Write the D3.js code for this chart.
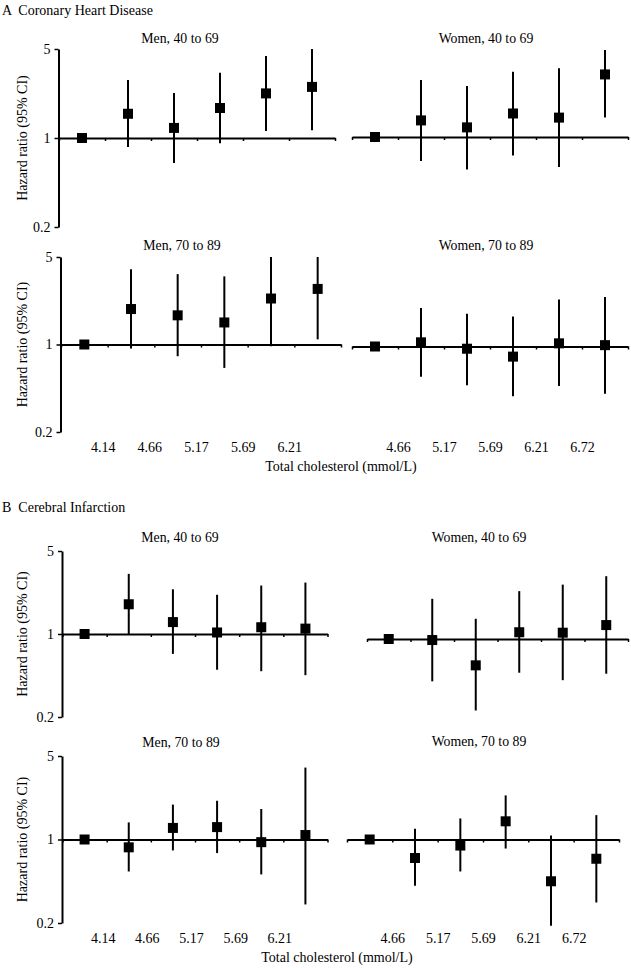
<!DOCTYPE html>
<html><head><meta charset="utf-8">
<script src="https://cdn.jsdelivr.net/npm/d3@7"></script>
<style>
html,body{margin:0;padding:0;background:#fff;}
text{font-family:"Liberation Serif","Times New Roman",serif;fill:#000;}
.pre{white-space:pre;}
</style></head>
<body>
<svg id="chart" width="631" height="968"></svg>
<script>
// ---------------- DATA ----------------
const menGroups   = ["<4.14","4.14–4.65","4.66–5.16","5.17–5.68","5.69–6.20","≥6.21"];
const womenGroups = ["<4.66","4.66–5.16","5.17–5.68","5.69–6.20","6.21–6.71","≥6.72"];
const menTickLabels   = ["4.14","4.66","5.17","5.69","6.21"];
const womenTickLabels = ["4.66","5.17","5.69","6.21","6.72"];
const yTickValues = [0.2, 1, 5];

// A Coronary Heart Disease
const chdMen4069HR   = [1, 1.55, 1.20, 1.72, 2.24, 2.52];
const chdMen4069Lo   = [1, 0.85, 0.635, 0.91, 1.135, 1.15];
const chdMen4069Hi   = [1, 2.85, 2.26, 3.25, 4.40, 5.0];
const chdWomen4069HR = [1, 1.35, 1.19, 1.53, 1.42, 3.10];
const chdWomen4069Lo = [1, 0.647, 0.556, 0.717, 0.58, 1.42];
const chdWomen4069Hi = [1, 2.80, 2.52, 3.25, 3.46, 4.82];
const chdMen7089HR   = [1, 1.92, 1.71, 1.50, 2.33, 2.78];
const chdMen7089Lo   = [1, 0.93, 0.806, 0.65, 0.97, 1.10];
const chdMen7089Hi   = [1, 4.00, 3.65, 3.50, 5.0, 5.0];
const chdWomen7089HR = [1, 1.08, 0.96, 0.83, 1.06, 1.025];
const chdWomen7089Lo = [1, 0.574, 0.49, 0.40, 0.483, 0.42];
const chdWomen7089Hi = [1, 2.03, 1.83, 1.74, 2.37, 2.49];

// B Cerebral Infarction
const ciMen4069HR   = [1, 1.78, 1.26, 1.03, 1.14, 1.11];
const ciMen4069Lo   = [1, 1.0, 0.68, 0.50, 0.486, 0.45];
const ciMen4069Hi   = [1, 3.21, 2.38, 2.14, 2.56, 2.71];
const ciWomen4069HR = [1, 0.98, 0.60, 1.14, 1.13, 1.31];
const ciWomen4069Lo = [1, 0.44, 0.25, 0.52, 0.45, 0.51];
const ciWomen4069Hi = [1, 2.18, 1.48, 2.53, 2.87, 3.38];
const ciMen7089HR   = [1, 0.86, 1.25, 1.27, 0.95, 1.09];
const ciMen7089Lo   = [1, 0.54, 0.81, 0.77, 0.51, 0.286];
const ciMen7089Hi   = [1, 1.39, 1.96, 2.11, 1.80, 4.0];
const ciWomen7089HR = [1, 0.70, 0.89, 1.42, 0.447, 0.69];
const ciWomen7089Lo = [1, 0.41, 0.54, 0.84, 0.19, 0.297];
const ciWomen7089Hi = [1, 1.23, 1.50, 2.34, 1.08, 1.60];

// ---------------- LAYOUT ----------------
const svg = d3.select("#chart");
const FONT = 14;

function makeSeries(groups, hr, lo, hi){
  return groups.map((g,i)=>({g, hr:hr[i], lo:lo[i], hi:hi[i], ref:i===0}));
}

const panels = [
  {title:"Men, 40 to 69", tx:180, ty:43, x0:59, x1:335, yTop:49, yBot:227, yAxis:true, groups:menGroups,
   data:makeSeries(menGroups, chdMen4069HR, chdMen4069Lo, chdMen4069Hi)},
  {title:"Women, 40 to 69", tx:486, ty:43, x0:352, x1:628, yTop:48, yBot:226, yAxis:false, groups:womenGroups,
   data:makeSeries(womenGroups, chdWomen4069HR, chdWomen4069Lo, chdWomen4069Hi)},
  {title:"Men, 70 to 89", tx:182, ty:250, x0:61, x1:341, yTop:257, yBot:432, yAxis:true, groups:menGroups,
   labels:menTickLabels, labelY:452, labelDx:-5,
   data:makeSeries(menGroups, chdMen7089HR, chdMen7089Lo, chdMen7089Hi)},
  {title:"Women, 70 to 89", tx:486, ty:250, x0:352, x1:628, yTop:259, yBot:434, yAxis:false, groups:womenGroups,
   labels:womenTickLabels, labelY:452, labelDx:0,
   data:makeSeries(womenGroups, chdWomen7089HR, chdWomen7089Lo, chdWomen7089Hi)},

  {title:"Men, 40 to 69", tx:180, ty:542, x0:62.5, x1:327.5, yTop:551, yBot:717, yAxis:true, groups:menGroups,
   data:makeSeries(menGroups, ciMen4069HR, ciMen4069Lo, ciMen4069Hi)},
  {title:"Women, 40 to 69", tx:479, ty:542, x0:367, x1:628, yTop:556, yBot:722, yAxis:false, groups:womenGroups,
   data:makeSeries(womenGroups, ciWomen4069HR, ciWomen4069Lo, ciWomen4069Hi)},
  {title:"Men, 70 to 89", tx:181, ty:747, x0:62.5, x1:327.5, yTop:756, yBot:923, yAxis:true, groups:menGroups,
   labels:menTickLabels, labelY:943, labelDx:-4,
   data:makeSeries(menGroups, ciMen7089HR, ciMen7089Lo, ciMen7089Hi)},
  {title:"Women, 70 to 89", tx:479, ty:746, x0:347, x1:619, yTop:756, yBot:923, yAxis:false, groups:womenGroups,
   labels:womenTickLabels, labelY:943, labelDx:0,
   data:makeSeries(womenGroups, ciWomen7089HR, ciWomen7089Lo, ciWomen7089Hi)}
];

// Section headings & axis titles
svg.append("text").attr("class","pre").attr("x",2).attr("y",15).attr("font-size",FONT).text("A  Coronary Heart Disease");
svg.append("text").attr("class","pre").attr("x",2).attr("y",512).attr("font-size",FONT).text("B  Cerebral Infarction");
svg.append("text").attr("x",341).attr("y",471).attr("text-anchor","middle").attr("font-size",FONT).text("Total cholesterol (mmol/L)");
svg.append("text").attr("x",337).attr("y",962).attr("text-anchor","middle").attr("font-size",FONT).text("Total cholesterol (mmol/L)");

panels.forEach(p=>{
  const g = svg.append("g");
  const x = d3.scaleBand().domain(p.groups).range([p.x0, p.x1]).paddingInner(0).paddingOuter(0);
  const xb = d3.scaleLinear().domain([0, p.groups.length]).range([p.x0, p.x1]);
  const y = d3.scaleLog().domain([0.2, 5]).range([p.yBot, p.yTop]);

  // title
  g.append("text").attr("x",p.tx).attr("y",p.ty).attr("text-anchor","middle")
    .attr("font-size",13.8).text(p.title);

  // y axis
  if(p.yAxis){
    const ya = g.append("g").attr("transform",`translate(${p.x0 - 0.5},0)`)
      .call(d3.axisLeft(y).tickValues(yTickValues).tickFormat(d=>d===0.2?"0.2":String(d)).tickSize(4).tickSizeOuter(0).tickPadding(4));
    ya.select(".domain").attr("stroke","#000").attr("stroke-width",2);
    ya.selectAll(".tick line").attr("stroke","#000").attr("stroke-width",1.5);
    ya.selectAll(".tick text").attr("font-family","Liberation Serif").attr("font-size",FONT).attr("fill","#000");

    g.append("text")
      .attr("transform",`translate(27,${(p.yTop+p.yBot)/2}) rotate(-90)`)
      .attr("text-anchor","middle").attr("font-size",FONT).text("Hazard ratio (95% CI)");
  }

  // horizontal axis at HR = 1
  const xa = g.append("g").attr("transform",`translate(0,${y(1)})`)
    .call(d3.axisBottom(xb).tickValues(d3.range(0, p.groups.length+1)).tickFormat("").tickSize(3).tickSizeOuter(0));
  xa.select(".domain").attr("stroke","#000").attr("stroke-width",2);
  xa.selectAll(".tick line").attr("stroke","#000").attr("stroke-width",1.5);

  // category boundary labels
  if(p.labels){
    const la = g.append("g").attr("transform",`translate(${p.labelDx},${p.labelY - 10})`)
      .call(d3.axisBottom(xb).tickValues(d3.range(1, p.groups.length)).tickFormat(d=>p.labels[d-1]).tickSize(0).tickPadding(0));
    la.select(".domain").remove();
    la.selectAll(".tick text").attr("font-family","Liberation Serif").attr("font-size",FONT).attr("fill","#000");
  }

  // error bars
  g.selectAll("line.ci").data(p.data.filter(d=>!d.ref)).enter().append("line")
    .attr("class","ci")
    .attr("x1",d=>x(d.g)+x.bandwidth()/2).attr("x2",d=>x(d.g)+x.bandwidth()/2)
    .attr("y1",d=>y(d.lo)).attr("y2",d=>y(d.hi))
    .attr("stroke","#000").attr("stroke-width",2);

  // squares
  const s = 10;
  g.selectAll("rect.pt").data(p.data).enter().append("rect")
    .attr("class","pt")
    .attr("x",d=>x(d.g)+x.bandwidth()/2 - s/2).attr("y",d=>y(d.hr)-s/2)
    .attr("width",s).attr("height",s).attr("fill","#000");
});
</script>
</body></html>
